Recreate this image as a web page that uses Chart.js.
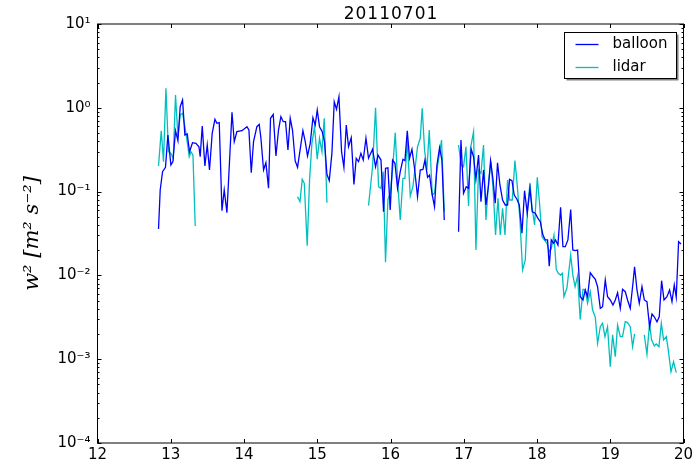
<!DOCTYPE html>
<html>
<head>
<meta charset="utf-8">
<script src="https://cdn.jsdelivr.net/npm/chart.js@4.4.1/dist/chart.umd.min.js"></script>
<style>
  html, body { margin: 0; padding: 0; background: #fff; }
</style>
</head>
<body>
<canvas id="chart" width="700" height="463"></canvas>
<script>
// x = time (h), y = w^2 in m^2 s^-2 ; null = gap in the record
const balloonX = [
  12.833, 12.856, 12.888, 12.928, 12.961, 13.002, 13.030, 13.065, 13.098, 13.129,
  13.161, 13.193, 13.225, 13.256, 13.297, 13.344, 13.385, 13.402, 13.430, 13.466,
  13.498, 13.529, 13.566, 13.603, 13.630, 13.662, 13.699, 13.730, 13.767, 13.836,
  13.867, 13.903, 13.972, 14.040, 14.067, 14.099, 14.130, 14.176, 14.208, 14.231,
  14.267, 14.299, 14.335, 14.362, 14.399, 14.436, 14.471, 14.504, 14.536, 14.567,
  14.600, 14.631, 14.662, 14.699, 14.731, 14.804, 14.836, 14.867, 14.904, 14.941,
  14.972, 15.000, 15.031, 15.068, 15.099, 15.132, 15.164, 15.200, 15.232, 15.263,
  15.296, 15.332, 15.364, 15.396, 15.427, 15.464, 15.501, 15.532, 15.564, 15.596,
  15.628, 15.665, 15.700, 15.755, 15.796, 15.829, 15.870, 15.905, 15.932, 15.965,
  15.996, 16.028, 16.061, 16.096, 16.133, 16.170, 16.197, 16.229, 16.260, 16.293,
  16.328, 16.369, 16.406, 16.443, 16.470, 16.506, 16.533, 16.566, 16.601, 16.634,
  16.670, 16.702, 16.734, 16.830, 16.929, 16.962, 16.997, 17.034, 17.066, 17.102,
  17.134, 17.166, 17.202, 17.235, 17.270, 17.303, 17.339, 17.366, 17.399, 17.430,
  17.461, 17.494, 17.530, 17.567, 17.598, 17.625, 17.658, 17.689, 17.726, 17.758,
  17.795, 17.830, 17.867, 17.904, 17.935, 17.976, 18.013, 18.045, 18.081, 18.113,
  18.144, 18.167, 18.195, 18.226, 18.253, 18.286, 18.322, 18.354, 18.386, 18.422,
  18.460, 18.489, 18.520, 18.554, 18.590, 18.628, 18.659, 18.690, 18.727, 18.759,
  18.796, 18.827, 18.864, 18.895, 18.932, 18.963, 19.000, 19.037, 19.069, 19.100,
  19.137, 19.168, 19.205, 19.236, 19.273, 19.310, 19.332, 19.365, 19.396, 19.433,
  19.465, 19.501, 19.537, 19.570, 19.601, 19.638, 19.669, 19.701, 19.734, 19.774,
  19.810, 19.843, 19.874, 19.901, 19.933, 19.966
];
const balloonY = [
  0.0358, 0.1045, 0.173, 0.195, 0.474, 0.208, 0.228, 0.533, 0.405, 1.03,
  1.24, 0.474, 0.487, 0.299, 0.383, 0.377, 0.343, 0.261, 0.607, 0.202,
  0.360, 0.181, 0.496, 0.729, 0.653, 0.664, 0.0592, 0.1045, 0.056, 0.884,
  0.394, 0.519, 0.533, 0.595, 0.543, 0.168, 0.394, 0.595, 0.635, 0.433,
  0.181, 0.221, 0.1095, 0.749, 0.836, 0.266, 0.543, 0.783, 0.683, 0.683,
  0.314, 0.749, 0.543, 0.232, 0.195, 0.533, 0.394, 0.266, 0.377, 0.762,
  0.623, 0.941, 0.595, 0.519, 0.394, 0.161, 0.135, 0.286, 1.18, 0.96,
  1.357, 0.299, 0.195, 0.623, 0.343, 0.440, 0.122, 0.250, 0.228, 0.286,
  0.238, 0.433, 0.250, 0.320, 0.198, 0.273, 0.238, 0.0575, 0.190, 0.192,
  0.0603, 0.238, 0.218, 0.1095, 0.173, 0.243, 0.234, 0.533, 0.250, 0.320,
  0.190, 0.0869, 0.181, 0.184, 0.238, 0.148, 0.158, 0.0955, 0.066, 0.208,
  0.334, 0.238, 0.0458, null, 0.0332, 0.413, 0.0955, 0.1144, 0.1095, 0.320,
  0.261, 0.140, 0.273, 0.0758, 0.181, 0.0692, 0.120, 0.234, 0.140, 0.0725,
  0.221, 0.120, 0.0794, 0.0692, 0.0692, 0.140, 0.135, 0.0911, 0.081, 0.0692,
  0.0318, 0.1025, 0.0551, 0.1095, 0.0575, 0.0551, 0.048, 0.0437, 0.0303, 0.0265,
  0.0265, 0.0129, 0.0265, 0.0242, 0.0265, 0.0231, 0.065, 0.022, 0.022, 0.0265,
  0.0611, 0.0201, 0.0198, 0.0201, 0.00557, 0.00509, 0.0067, 0.00557, 0.01077, 0.00984,
  0.00899, 0.00733, 0.00405, 0.00423, 0.00881, 0.00557, 0.00509, 0.00443, 0.00509, 0.00622,
  0.00405, 0.00683, 0.00639, 0.00509, 0.00405, 0.00805, 0.0127, 0.0067, 0.00465, 0.00733,
  0.00509, 0.00486, 0.00244, 0.00346, 0.00321, 0.0028, 0.00321, 0.00865, 0.00509, 0.00557,
  0.0067, 0.00486, 0.00768, 0.00548, 0.0252, 0.0237
];

const lidarX = [
  12.833, 12.870, 12.901, 12.934, 12.969, 13.002, 13.034, 13.065, 13.098, 13.129,
  13.161, 13.193, 13.221, 13.252, 13.275, 13.303, 13.334, 14.000, 14.731, 14.764,
  14.795, 14.823, 14.863, 14.895, 14.927, 14.963, 15.000, 15.031, 15.064, 15.095,
  15.132, 15.400, 15.700, 15.755, 15.796, 15.837, 15.870, 15.901, 15.932, 15.965,
  15.996, 16.028, 16.065, 16.096, 16.133, 16.170, 16.197, 16.229, 16.270, 16.306,
  16.338, 16.369, 16.406, 16.433, 16.465, 16.497, 16.529, 16.570, 16.601, 16.634,
  16.665, 16.697, 16.734, 16.830, 16.929, 16.966, 16.997, 17.030, 17.066, 17.092,
  17.134, 17.166, 17.202, 17.235, 17.270, 17.303, 17.339, 17.371, 17.403, 17.434,
  17.467, 17.498, 17.530, 17.563, 17.598, 17.625, 17.662, 17.699, 17.730, 17.767,
  17.803, 17.840, 17.871, 17.904, 17.931, 17.967, 18.004, 18.031, 18.068, 18.099,
  18.136, 18.167, 18.195, 18.232, 18.263, 18.290, 18.322, 18.345, 18.368, 18.409,
  18.460, 18.489, 18.520, 18.554, 18.590, 18.628, 18.659, 18.690, 18.727, 18.759,
  18.796, 18.827, 18.864, 18.895, 18.928, 18.963, 19.000, 19.032, 19.069, 19.100,
  19.137, 19.168, 19.205, 19.236, 19.273, 19.305, 19.332, 19.400, 19.465, 19.501,
  19.537, 19.564, 19.601, 19.628, 19.665, 19.697, 19.728, 19.765, 19.792, 19.829,
  19.864, 19.901
];
const lidarY = [
  0.202, 0.533, 0.228, 1.71, 0.299, 0.286, 0.250, 1.42, 0.452, 0.82,
  0.86, 0.595, 0.413, 0.261, 0.299, 0.273, 0.0389, null, 0.0869, 0.0758,
  0.140, 0.1256, 0.0226, 0.1375, 0.377, 0.595, 0.243, 0.433, 0.299, 0.749,
  0.0737, null, 0.0679, 0.198, 1.003, 0.1144, 0.1095, 0.173, 0.01433, 0.081,
  0.0955, 0.181, 0.505, 0.1375, 0.0458, 0.144, 0.144, 0.413, 0.0886, 0.1144,
  0.198, 0.343, 0.433, 0.986, 0.314, 0.181, 0.543, 0.0911, 0.0955, 0.181,
  0.273, 0.413, 0.0575, null, 0.360, 0.208, 0.198, 0.343, 0.0673, 0.329,
  0.519, 0.0201, 0.181, 0.1653, 0.360, 0.0458, 0.1312, 0.228, 0.0997, 0.0303,
  0.0832, 0.0303, 0.0632, 0.0303, 0.1375, 0.0794, 0.0794, 0.234, 0.120, 0.0458,
  0.0116, 0.01527, 0.0632, 0.1256, 0.066, 0.03995, 0.148, 0.0794, 0.029, 0.0265,
  0.0242, 0.0192, 0.021, 0.0303, 0.01183, 0.0106, 0.0101, 0.0106, 0.00557, 0.0071,
  0.0175, 0.0101, 0.00733, 0.00984, 0.00299, 0.00683, 0.0067, 0.00465, 0.00639, 0.00386,
  0.00316, 0.00155, 0.00244, 0.00268, 0.00186, 0.00244, 0.000814, 0.00195, 0.00107, 0.00256,
  0.00186, 0.00186, 0.0028, 0.00273, 0.00244, 0.00141, 0.002, null, 0.00195, 0.00115,
  0.00268, 0.0017, 0.00144, 0.00152, 0.00141, 0.00268, 0.0017, 0.00186, 0.00129, 0.00071,
  0.000933, 0.00069
];

const xTicks = [12, 13, 14, 15, 16, 17, 18, 19, 20];
const yDecades = [1e-4, 1e-3, 1e-2, 1e-1, 1, 10];
const seriesNames = ['balloon', 'lidar'];
const seriesColors = ['#0000ff', '#00bfbf'];
const chartTitle = '20110701';

const toPoints = (xs, ys) => xs.map((x, i) => ({ x: x, y: ys[i] }));

const SUP = { '-': '\u207B', '0': '\u2070', '1': '\u00B9', '2': '\u00B2', '3': '\u00B3', '4': '\u2074' };
const powLabel = v => '10' + String(Math.round(Math.log10(v))).split('').map(c => SUP[c]).join('');

const FONT = 'DejaVu Sans';

// inward ticks, frame, title and boxed legend (matplotlib classic look)
const mplFrame = {
  id: 'mplFrame',
  afterDatasetsDraw(chart) {
    const ctx = chart.ctx;
    const a = chart.chartArea;
    const xs = chart.scales.x, ys = chart.scales.y;
    ctx.save();
    ctx.strokeStyle = '#000';
    ctx.lineWidth = 1;
    ctx.beginPath();
    xTicks.forEach(v => {
      const px = Math.round(xs.getPixelForValue(v)) + 0.5;
      ctx.moveTo(px, a.bottom); ctx.lineTo(px, a.bottom - 4);
      ctx.moveTo(px, a.top); ctx.lineTo(px, a.top + 4);
    });
    yDecades.forEach((d, k) => {
      const steps = k < yDecades.length - 1 ? 9 : 1;
      for (let m = 1; m <= steps; m++) {
        const py = Math.round(ys.getPixelForValue(m * d)) + 0.5;
        const len = m === 1 ? 4 : 2;
        ctx.moveTo(a.left, py); ctx.lineTo(a.left + len, py);
        ctx.moveTo(a.right, py); ctx.lineTo(a.right - len, py);
      }
    });
    ctx.stroke();
    ctx.strokeRect(a.left, a.top, a.right - a.left, a.bottom - a.top);

    // title, centred over the axes
    ctx.fillStyle = '#000';
    ctx.font = '17px "' + FONT + '"';
    ctx.letterSpacing = '1px';
    ctx.textAlign = 'center';
    ctx.textBaseline = 'alphabetic';
    ctx.fillText(chartTitle, (a.left + a.right) / 2 + 0.5, 18.5);
    ctx.letterSpacing = '0px';
    ctx.textAlign = 'left';

    // legend
    const lx = 564.5, ly = 32.5, lw = 112, lh = 46;
    ctx.fillStyle = 'rgba(0,0,0,0.5)';
    ctx.fillRect(lx + 2, ly + 2, lw, lh);
    ctx.fillStyle = '#fff';
    ctx.fillRect(lx, ly, lw, lh);
    ctx.strokeStyle = '#000';
    ctx.strokeRect(lx, ly, lw, lh);
    ctx.font = '15px "' + FONT + '"';
    ctx.textBaseline = 'middle';
    chart.data.datasets.forEach((ds, i) => {
      const y = ly + 12 + i * 23;
      ctx.strokeStyle = ds.borderColor;
      ctx.lineWidth = 1.3;
      ctx.beginPath();
      ctx.moveTo(lx + 11, y); ctx.lineTo(lx + 34, y);
      ctx.stroke();
      ctx.fillStyle = '#000';
      ctx.fillText(ds.label, lx + 48, y);
    });
    ctx.restore();
  }
};

new Chart(document.getElementById('chart'), {
  type: 'line',
  data: {
    datasets: [
      { label: seriesNames[0], data: toPoints(balloonX, balloonY), borderColor: seriesColors[0] },
      { label: seriesNames[1], data: toPoints(lidarX, lidarY), borderColor: seriesColors[1] }
    ]
  },
  options: {
    responsive: false,
    animation: false,
    devicePixelRatio: 1,
    spanGaps: false,
    layout: { padding: { left: 0, right: 16.5, top: 24, bottom: 0 } },
    elements: {
      line: { borderWidth: 1.3, tension: 0 },
      point: { radius: 0 }
    },
    plugins: {
      legend: { display: false },
      tooltip: { enabled: false },
      title: { display: false }
    },
    scales: {
      x: {
        type: 'linear',
        min: 12,
        max: 20,
        afterBuildTicks: s => { s.ticks = xTicks.map(v => ({ value: v })); },
        afterFit: s => { s.height = 20; },
        grid: { display: false, drawTicks: false },
        border: { display: false },
        ticks: { color: '#000', padding: 3, maxRotation: 0, font: { family: FONT, size: 15 } }
      },
      y: {
        type: 'logarithmic',
        min: 1e-4,
        max: 10,
        afterBuildTicks: s => { s.ticks = yDecades.map(v => ({ value: v })); },
        afterFit: s => { s.width = 97.5; },
        grid: { display: false, drawTicks: false },
        border: { display: false },
        ticks: {
          color: '#000',
          padding: 7,
          autoSkip: false,
          font: { family: FONT, size: 15 },
          callback: v => powLabel(v)
        },
        title: {
          display: true,
          text: 'w\u00B2 [m\u00B2 s\u207B\u00B2]',
          color: '#000',
          font: { family: 'DejaVu Serif', style: 'italic', size: 21 },
          padding: { top: 20, bottom: 0 }
        }
      }
    }
  },
  plugins: [mplFrame]
});
</script>
</body>
</html>
